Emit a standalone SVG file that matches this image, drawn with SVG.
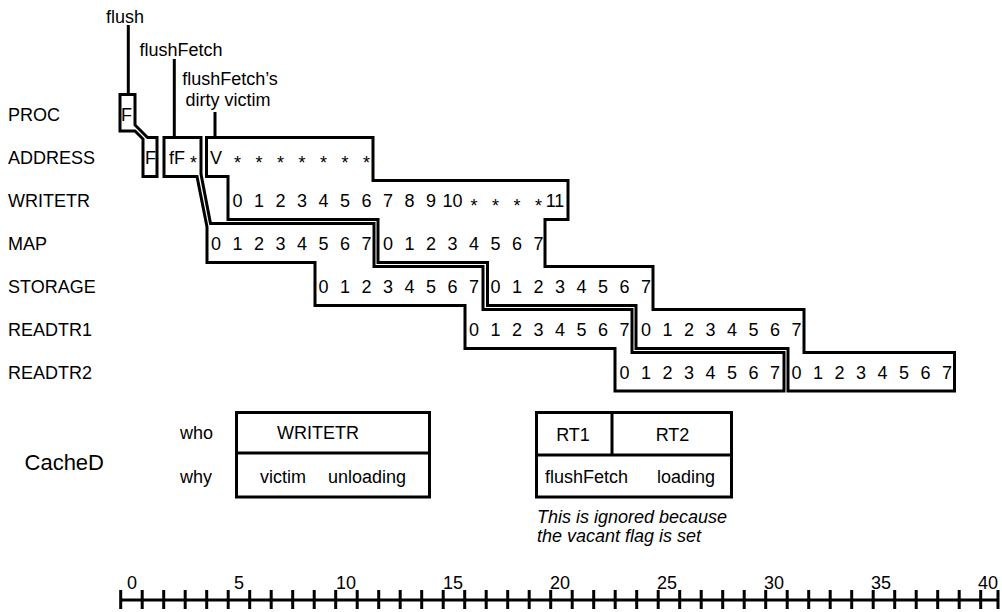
<svg xmlns="http://www.w3.org/2000/svg" width="1002" height="612" viewBox="0 0 1002 612">
<style>
text{font-family:"Liberation Sans",Arial,sans-serif;font-size:18px;fill:#000}
.c{text-anchor:middle}
.big{font-size:22px;text-anchor:end}
.it{font-style:italic}
.box{fill:#fff;stroke:#000;stroke-width:3;stroke-linejoin:miter}
.ln{fill:none;stroke:#000;stroke-width:3}
</style>
<rect width="1002" height="612" fill="#fff"/>

<g id="row-labels">
<text x="8" y="120.5">PROC</text>
<text x="8" y="163.5">ADDRESS</text>
<text x="8" y="206.5">WRITETR</text>
<text x="8" y="249.5">MAP</text>
<text x="8" y="292.5">STORAGE</text>
<text x="8" y="335.5">READTR1</text>
<text x="8" y="378.5">READTR2</text>
</g>

<g id="top-labels">
<text class="c" x="125" y="23">flush</text>
<text class="c" x="181" y="56">flushFetch</text>
<text class="c" x="230" y="85">flushFetch’s</text>
<text class="c" x="228" y="106">dirty victim</text>
</g>

<g id="connectors">
<path class="ln" d="M128.3,25V94.5"/>
<path class="ln" d="M174.3,59V137.5"/>
<path class="ln" d="M215,112V137.5"/>
</g>

<g id="flush">
<path class="box" d="M120,94.5H135V125L147.5,137.5H157V176.5H143V139L135,131H120Z"/>
<text class="c" x="126.5" y="120.5">F</text>
<text class="c" x="150.5" y="163.5">F</text>
</g>

<g id="flushFetch">
<path class="box" d="M164,137.5H201V174L210.5,223.5H374V266.5H483V309.5H632V352.5H784V391H615V348.5H465V305.5H315V262.5H207V227L197,176.5H164Z"/>
<text x="169" y="163.5">fF</text>
<text class="c" x="193.5" y="168.5">*</text>
<text class="c" x="216 237.5 259 280.5 302 323.5 345 366.5" y="249.5">01234567</text>
<text class="c" x="323.5 345 366.5 388 409.5 431 452.5 474" y="292.5">01234567</text>
<text class="c" x="474 495.5 517 538.5 560 581.5 603 624.5" y="335.5">01234567</text>
<text class="c" x="624.5 646 667.5 689 710.5 732 753.5 775" y="378.5">01234567</text>
</g>

<g id="victim">
<path class="box" d="M206.5,137.5H373V180.5H568V219.5H545V266.5H653V309.5H804V352.5H954.5V391H788V348.5H636V305.5H487.5V262.5H378V219.5H228V176.5H206.5Z"/>
<text class="c" x="216" y="163.5">V</text>
<text class="c" x="237.5 259 280.5 302 323.5 345 366.5" y="168.5">*******</text>
<text class="c" x="237.5 259 280.5 302 323.5 345 366.5 388 409.5 431" y="206.5">0123456789</text>
<text class="c" x="452.5" y="206.5">10</text>
<text class="c" x="474 495.5 517 538.5" y="211.5">****</text>
<text class="c" x="555" y="206.5">11</text>
<text class="c" x="388 409.5 431 452.5 474 495.5 517 538.5" y="249.5">01234567</text>
<text class="c" x="495.5 517 538.5 560 581.5 603 624.5 646" y="292.5">01234567</text>
<text class="c" x="646 667.5 689 710.5 732 753.5 775 796.5" y="335.5">01234567</text>
<text class="c" x="796.5 818 839.5 861 882.5 904 925.5 947" y="378.5">01234567</text>
</g>

<g id="cached">
<text class="big" x="104" y="470">CacheD</text>
<text x="180" y="439">who</text>
<text x="180" y="482.5">why</text>
<g id="cached-writetr">
<rect class="box" x="236.5" y="412.5" width="193" height="84.5"/>
<path class="ln" d="M236.5,453H429.5"/>
<text class="c" x="318" y="439">WRITETR</text>
<text x="260" y="482.5">victim</text>
<text x="328" y="482.5">unloading</text>
</g>
<g id="cached-rt">
<rect class="box" x="536.5" y="412.5" width="195" height="84.5"/>
<path class="ln" d="M536.5,455H731.5M612,412.5V455"/>
<text class="c" x="573" y="441">RT1</text>
<text class="c" x="672.5" y="441">RT2</text>
<text x="545" y="483">flushFetch</text>
<text x="657" y="483">loading</text>
</g>
<text class="it" x="537" y="523">This is ignored because</text>
<text class="it" x="537" y="542">the vacant flag is set</text>
</g>

<g id="timeline">
<path class="ln" d="M120.7,600H998"/>
<path class="ln" d="M120.7,590V609M142.2,590V609M163.7,590V609M185.2,590V609M206.7,590V609M228.2,590V609M249.7,590V609M271.2,590V609M292.7,590V609M314.2,590V609M335.7,590V609M357.2,590V609M378.7,590V609M400.2,590V609M421.7,590V609M443.2,590V609M464.7,590V609M486.2,590V609M507.7,590V609M529.2,590V609M550.7,590V609M572.2,590V609M593.7,590V609M615.2,590V609M636.7,590V609M658.2,590V609M679.7,590V609M701.2,590V609M722.7,590V609M744.2,590V609M765.7,590V609M787.2,590V609M808.7,590V609M830.2,590V609M851.7,590V609M873.2,590V609M894.7,590V609M916.2,590V609M937.7,590V609M959.2,590V609M980.7,590V609M998,590V609"/>
<text class="c" x="132" y="588.5">0</text>
<text class="c" x="239" y="588.5">5</text>
<text class="c" x="346" y="588.5">10</text>
<text class="c" x="453" y="588.5">15</text>
<text class="c" x="560" y="588.5">20</text>
<text class="c" x="667" y="588.5">25</text>
<text class="c" x="774" y="588.5">30</text>
<text class="c" x="881" y="588.5">35</text>
<text class="c" x="988" y="588.5">40</text>
</g>
</svg>
